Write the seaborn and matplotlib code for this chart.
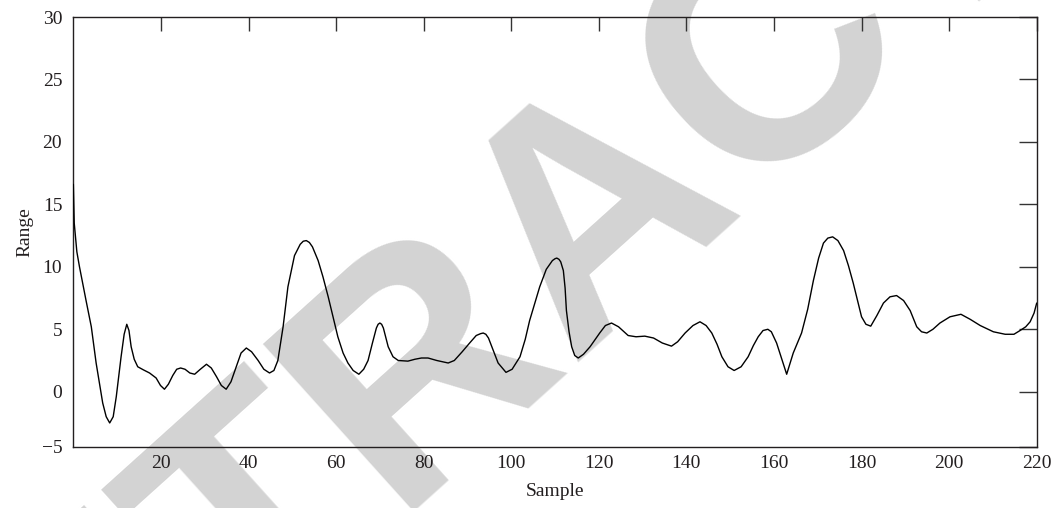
import matplotlib
matplotlib.use("Agg")
import matplotlib.pyplot as plt
import seaborn as sns
import pandas as pd

# ---- data ----
sample = [0, 0.2, 0.8, 1.4, 2.9, 4.1, 5.2, 6.7, 7.5, 8.3, 9.1, 9.8, 10.9, 11.6, 12.2, 12.7,
          13.2, 13.9, 14.7, 16.0, 17.4, 18.9, 19.9, 20.8, 21.7, 22.7, 23.6, 24.5, 25.5, 26.6,
          27.7, 29.0, 30.4, 31.5, 32.7, 33.8, 34.9, 36.0, 37.2, 38.3, 39.5, 40.7, 42.2, 43.5,
          44.8, 45.8, 46.7, 47.9, 49.0, 50.5, 51.8, 52.5, 53.2, 53.9, 54.6, 55.9, 57.0, 58.2,
          60.4, 61.6, 62.7, 63.9, 65.2, 66.3, 67.3, 68.3, 69.2, 69.6, 70.0, 70.4, 70.8, 71.9,
          73.0, 74.2, 76.4, 78.0, 79.5, 81.0, 83.0, 85.6, 87.0, 88.8, 90.5, 92.0, 93.0, 93.6,
          94.2, 94.8, 95.9, 97.0, 98.8, 100.2, 102.0, 103.2, 104.2, 106.5, 108.0, 109.4,
          110.0, 110.4, 110.9, 111.3, 111.9, 112.3, 112.6, 113.2, 113.8, 114.5, 115.3, 116.5,
          118.0, 120.2, 121.5, 122.9, 124.5, 126.7, 128.5, 130.5, 132.5, 134.5, 136.6, 138.0,
          139.7, 141.5, 143.1, 144.5, 145.8, 147.0, 148.1, 149.5, 150.9, 152.5, 154.1, 155.3,
          156.4, 157.5, 158.6, 159.4, 160.6, 161.8, 162.9, 163.6, 164.4, 166.3, 167.7, 169.0,
          170.2, 171.3, 172.3, 173.4, 174.6, 175.9, 177.0, 178.1, 180.0, 181.0, 182.1, 183.5,
          185.0, 186.5, 188.0, 189.6, 191.1, 192.6, 193.7, 194.9, 196.3, 197.9, 200.2, 202.7,
          204.8, 207.1, 210.1, 212.8, 214.8, 216.2, 217.5, 218.5, 219.4, 220.0]
range_vals = [16.6, 13.5, 11.2, 10.0, 7.3, 5.2, 2.3, -0.9, -2.0, -2.5, -2.0, -0.4, 2.8, 4.6, 5.4, 4.9,
              3.6, 2.6, 2.0, 1.75, 1.5, 1.1, 0.5, 0.2, 0.6, 1.3, 1.8, 1.9, 1.8, 1.5,
              1.4, 1.8, 2.2, 1.9, 1.2, 0.5, 0.2, 0.8, 2.0, 3.1, 3.5, 3.2, 2.5, 1.8,
              1.5, 1.7, 2.5, 5.2, 8.4, 10.9, 11.8, 12.05, 12.1, 11.95, 11.6, 10.5, 9.2, 7.6,
              4.4, 3.1, 2.3, 1.7, 1.4, 1.8, 2.5, 3.9, 5.1, 5.4, 5.5, 5.4, 5.1, 3.6,
              2.8, 2.5, 2.45, 2.6, 2.7, 2.7, 2.5, 2.3, 2.5, 3.2, 3.9, 4.5, 4.65, 4.7,
              4.6, 4.3, 3.3, 2.3, 1.55, 1.8, 2.8, 4.2, 5.7, 8.4, 9.8, 10.5,
              10.65, 10.7, 10.6, 10.4, 9.7, 8.3, 6.5, 4.8, 3.6, 2.9, 2.7, 3.0,
              3.6, 4.7, 5.3, 5.5, 5.2, 4.5, 4.4, 4.45, 4.3, 3.9, 3.65, 4.0,
              4.7, 5.3, 5.6, 5.3, 4.7, 3.8, 2.8, 2.0, 1.7, 2.0, 2.8, 3.7,
              4.4, 4.9, 5.0, 4.8, 3.9, 2.6, 1.4, 2.2, 3.1, 4.7, 6.6, 8.9,
              10.7, 11.9, 12.3, 12.4, 12.1, 11.3, 10.1, 8.7, 6.0, 5.4, 5.25, 6.1,
              7.1, 7.6, 7.7, 7.3, 6.5, 5.2, 4.8, 4.7, 5.0, 5.5, 6.0, 6.2,
              5.8, 5.3, 4.8, 4.6, 4.6, 4.9, 5.2, 5.6, 6.3, 7.1]

x_ticks = [20, 40, 60, 80, 100, 120, 140, 160, 180, 200, 220]
y_ticks = [0, 5, 10, 15, 20, 25, 30]
y_tick_labels = ["0", "5", "10", "15", "20", "25", "30"]
y_bottom_label = "\u22125"
x_label = "Sample"
y_label = "Range"
watermark = "RETRACTED"

df = pd.DataFrame({"Sample": sample, "Range": range_vals})

sns.set_style("white")
plt.rcParams["font.family"] = ["Liberation Serif", "DejaVu Serif"]

fig = plt.figure(figsize=(10.57, 5.08), dpi=100)
ax = fig.add_axes([0.0694, 0.1207, 0.9114, 0.8458])
ax.patch.set_alpha(0)

# watermark behind everything
ax.text(0.566, 0.583, watermark, transform=fig.transFigure, rotation=42,
        ha="center", va="center", fontsize=235, fontweight="bold",
        family="Liberation Sans", color="#d3d3d3", zorder=0, clip_on=False)

sns.lineplot(data=df, x="Sample", y="Range", ax=ax, color="black",
             linewidth=1.0, estimator=None, sort=False, zorder=3)

y_min = -4.4
ax.set_xlim(0, 220)
ax.set_ylim(y_min, 30)
ax.set_xticks(x_ticks)
ax.set_xticklabels([str(t) for t in x_ticks])
ax.set_yticks([y_min] + y_ticks)
ax.set_yticklabels([y_bottom_label] + y_tick_labels)

ax.tick_params(axis="both", direction="in", labelsize=14, width=1.0, color="#333333",
               top=True, right=True, labelcolor="#231f20")
ax.tick_params(axis="x", length=10, pad=6)
ax.tick_params(axis="y", length=13, pad=8)

for sp in ax.spines.values():
    sp.set_visible(True)
    sp.set_color("#231f20")
    sp.set_linewidth(1.0)

ax.set_xlabel(x_label, fontsize=14, color="#231f20", labelpad=8)
ax.set_ylabel(y_label, fontsize=14, color="#231f20", labelpad=6)

fig.savefig("out.png", dpi=100)
